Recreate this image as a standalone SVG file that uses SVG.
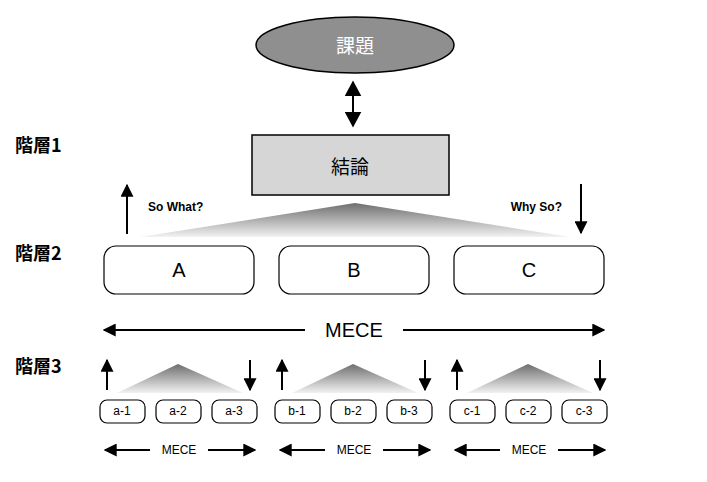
<svg xmlns="http://www.w3.org/2000/svg" width="707" height="482" viewBox="0 0 707 482">
<style>
.t{font-family:"Liberation Sans","Noto Sans CJK JP",sans-serif;text-anchor:middle;dominant-baseline:central}
.j{font-family:"Noto Sans CJK JP",sans-serif}
.lv{font-family:"Noto Sans CJK JP",sans-serif;font-weight:bold;font-size:18px}
.box{fill:#fff;stroke:#000;stroke-width:1.2}
.ln{stroke:#000;stroke-width:2;fill:none}
</style>
<defs>
<linearGradient id="g" x1="0" y1="0" x2="0" y2="1"><stop offset="0" stop-color="#6e6e6e"/><stop offset="1" stop-color="#f2f2f2"/></linearGradient>
<marker id="ah" viewBox="0 0 10 10" refX="9" refY="5" markerUnits="userSpaceOnUse" markerWidth="13" markerHeight="13" orient="auto-start-reverse" preserveAspectRatio="none"><path d="M0,0L10,5L0,10z" fill="#000"/></marker>
<marker id="ahb" viewBox="0 0 10 10" refX="9" refY="5" markerUnits="userSpaceOnUse" markerWidth="16" markerHeight="17" orient="auto-start-reverse" preserveAspectRatio="none"><path d="M0,0L10,5L0,10z" fill="#000"/></marker>
</defs>
<rect width="707" height="482" fill="#fff"/>
<text class="lv" x="15" y="152">階層1</text>
<text class="lv" x="15" y="260">階層2</text>
<text class="lv" x="15" y="373">階層3</text>
<g id="kadai"><ellipse cx="355" cy="45" rx="99" ry="28" fill="#8f8f8f" stroke="#000" stroke-width="1.5"/><text class="t j" x="355" y="44" font-size="19" fill="#fff">課題</text></g>
<g id="ketsuron"><rect x="252" y="135" width="197" height="60" fill="#d6d6d6" stroke="#000" stroke-width="1.5"/><text class="t j" x="350" y="165" font-size="19">結論</text></g>
<g id="A"><rect class="box" x="104" y="246" width="150" height="48" rx="12"/><text class="t" x="179" y="270" font-size="20">A</text></g>
<g id="B"><rect class="box" x="279" y="246" width="150" height="48" rx="12"/><text class="t" x="354" y="270" font-size="20">B</text></g>
<g id="C"><rect class="box" x="454" y="246" width="150" height="48" rx="12"/><text class="t" x="529" y="270" font-size="20">C</text></g>
<g id="subs" font-size="12">
<g id="a1"><rect class="box" x="100" y="400" width="45" height="23" rx="7"/><text class="t" x="122" y="411">a-1</text></g>
<g id="a2"><rect class="box" x="156" y="400" width="45" height="23" rx="7"/><text class="t" x="178" y="411">a-2</text></g>
<g id="a3"><rect class="box" x="212" y="400" width="45" height="23" rx="7"/><text class="t" x="234" y="411">a-3</text></g>
<g id="b1"><rect class="box" x="275" y="400" width="45" height="23" rx="7"/><text class="t" x="297" y="411">b-1</text></g>
<g id="b2"><rect class="box" x="331" y="400" width="45" height="23" rx="7"/><text class="t" x="353" y="411">b-2</text></g>
<g id="b3"><rect class="box" x="387" y="400" width="45" height="23" rx="7"/><text class="t" x="409" y="411">b-3</text></g>
<g id="c1"><rect class="box" x="450" y="400" width="45" height="23" rx="7"/><text class="t" x="472" y="411">c-1</text></g>
<g id="c2"><rect class="box" x="506" y="400" width="45" height="23" rx="7"/><text class="t" x="528" y="411">c-2</text></g>
<g id="c3"><rect class="box" x="562" y="400" width="45" height="23" rx="7"/><text class="t" x="584" y="411">c-3</text></g>
</g>
<g id="connectors">
<line class="ln" x1="353" y1="82" x2="353" y2="126" stroke-width="4" marker-start="url(#ahb)" marker-end="url(#ahb)"/>
<polygon points="355,203 570,237 140,237" fill="url(#g)"/>
<line class="ln" x1="127" y1="234" x2="127" y2="185" marker-end="url(#ah)"/>
<line class="ln" x1="581" y1="184" x2="581" y2="233" marker-end="url(#ah)"/>
<text class="t" x="148" y="207" font-size="12" font-weight="bold" style="text-anchor:start">So What?</text>
<text class="t" x="562" y="207" font-size="12" font-weight="bold" style="text-anchor:end">Why So?</text>
<line class="ln" x1="305" y1="330" x2="104" y2="330" marker-end="url(#ah)"/>
<line class="ln" x1="403" y1="330" x2="604" y2="330" marker-end="url(#ah)"/>
<text class="t" x="354" y="330" font-size="20">MECE</text>
<g id="l3a">
<polygon points="178,364 243,393 117,393" fill="url(#g)"/>
<line class="ln" x1="107" y1="390" x2="107" y2="360" stroke-width="2.5" marker-end="url(#ah)"/>
<line class="ln" x1="250" y1="360" x2="250" y2="390" stroke-width="2.5" marker-end="url(#ah)"/>
<line class="ln" x1="150" y1="450" x2="105" y2="450" marker-end="url(#ah)"/>
<line class="ln" x1="208" y1="450" x2="255" y2="450" marker-end="url(#ah)"/>
<text class="t" x="179" y="450" font-size="12">MECE</text>
</g>
<use href="#l3a" x="175"/>
<use href="#l3a" x="350"/>
</g>
</svg>
